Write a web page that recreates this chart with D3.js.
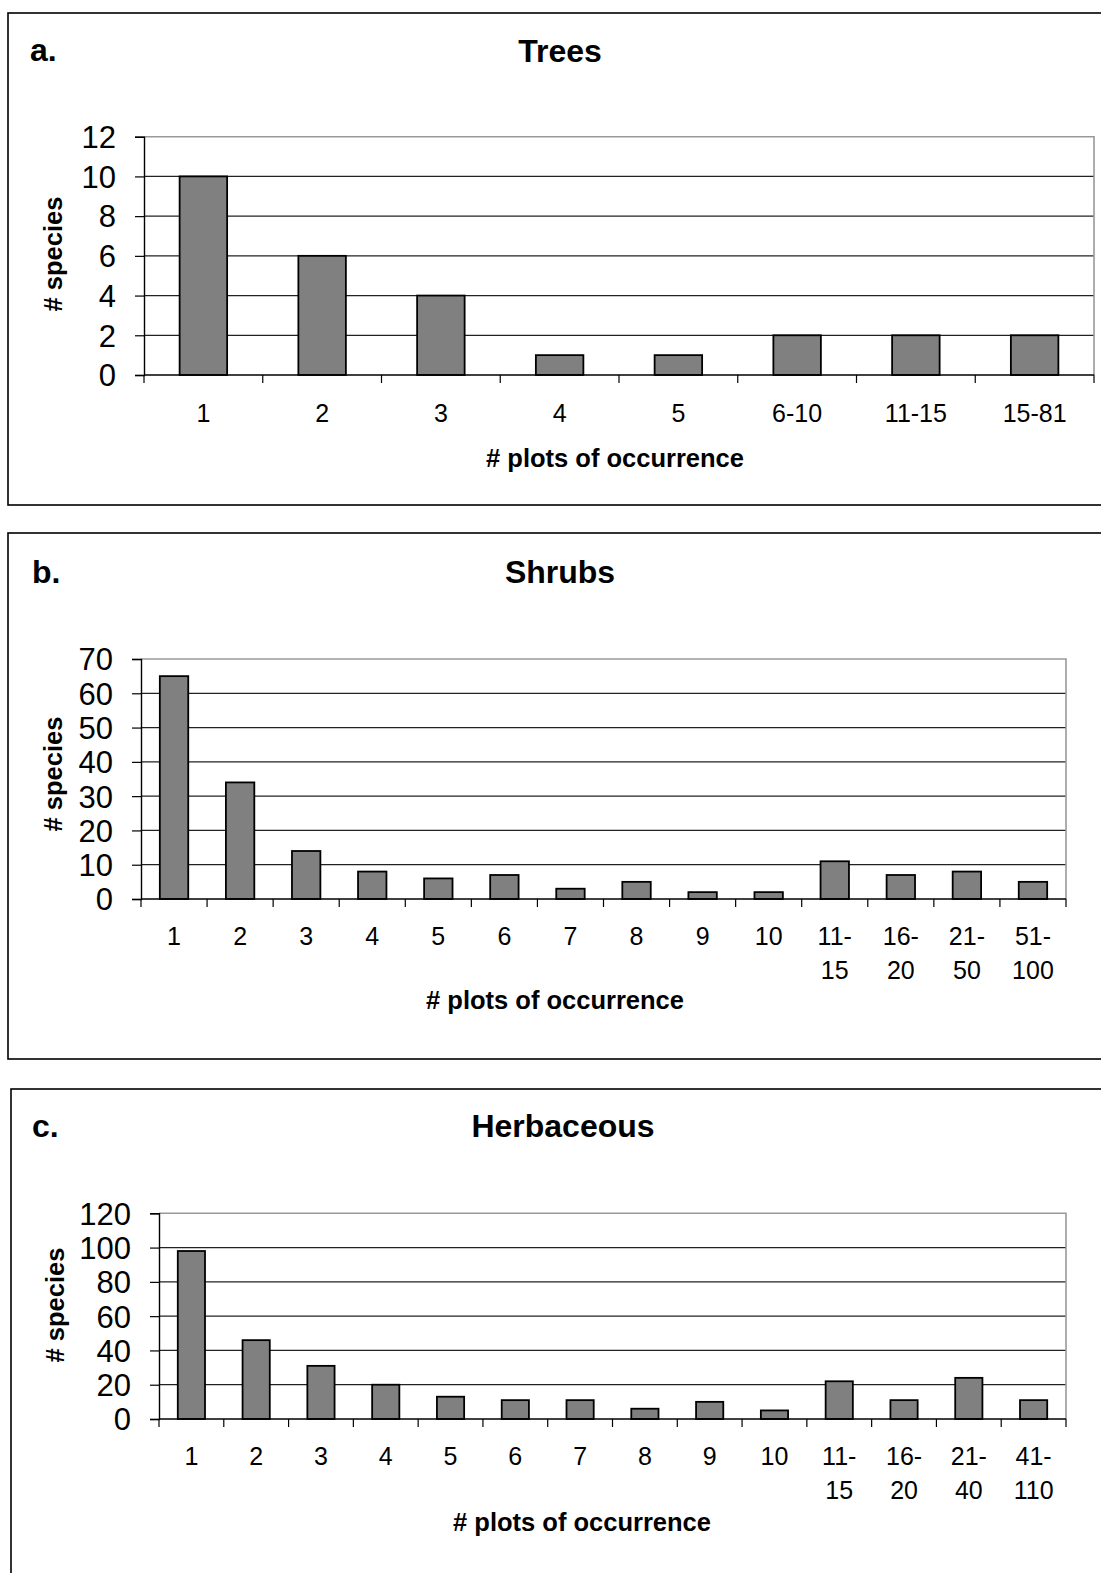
<!DOCTYPE html>
<html>
<head>
<meta charset="utf-8">
<script src="https://cdn.jsdelivr.net/npm/d3@7"></script>
<style>
  html, body { margin: 0; padding: 0; background: #fff; }
  svg { display: block; }
  text { font-family: "Liberation Sans", Arial, sans-serif; fill: #000; }
</style>
</head>
<body>
<svg id="chart" width="1101" height="1573"></svg>
<script>
// ---- Data ----
const treeCategories  = ["1", "2", "3", "4", "5", "6-10", "11-15", "15-81"];
const treeValues      = [10, 6, 4, 1, 1, 2, 2, 2];
const treeTicks       = [0, 2, 4, 6, 8, 10, 12];

const shrubCategories = ["1", "2", "3", "4", "5", "6", "7", "8", "9", "10", "11-\n15", "16-\n20", "21-\n50", "51-\n100"];
const shrubValues     = [65, 34, 14, 8, 6, 7, 3, 5, 2, 2, 11, 7, 8, 5];
const shrubTicks      = [0, 10, 20, 30, 40, 50, 60, 70];

const herbCategories  = ["1", "2", "3", "4", "5", "6", "7", "8", "9", "10", "11-\n15", "16-\n20", "21-\n40", "41-\n110"];
const herbValues      = [98, 46, 31, 20, 13, 11, 11, 6, 10, 5, 22, 11, 24, 11];
const herbTicks       = [0, 20, 40, 60, 80, 100, 120];

const panelLetters = ["a.", "b.", "c."];
const panelTitles  = ["Trees", "Shrubs", "Herbaceous"];
const yAxisTitle = "# species";
const xAxisTitle = "# plots of occurrence";

// ---- Layout (positions only) ----
const layouts = [
  { box: [8, 13, 1200, 492], letter: [30, 61], title: [560, 62],
    plot: { x0: 144, x1: 1094, y0: 136.7, y1: 375 }, barRatio: 0.40,
    yLabel: [53, 254], xTitle: [615, 467], tickBase: 47 },
  { box: [8, 533, 1200, 526], letter: [32, 583], title: [560, 583],
    plot: { x0: 141, x1: 1066, y0: 659, y1: 899 }, barRatio: 0.43,
    yLabel: [53, 774], xTitle: [555, 1009], tickBase: 46 },
  { box: [11, 1089, 1200, 600], letter: [32, 1137], title: [563, 1137],
    plot: { x0: 159, x1: 1066, y0: 1213.3, y1: 1419 }, barRatio: 0.42,
    yLabel: [55, 1305], xTitle: [582, 1531], tickBase: 46 }
];

const panels = [
  { cats: treeCategories,  vals: treeValues,  ticks: treeTicks },
  { cats: shrubCategories, vals: shrubValues, ticks: shrubTicks },
  { cats: herbCategories,  vals: herbValues,  ticks: herbTicks }
];

const svg = d3.select("#chart");

panels.forEach((p, i) => {
  const L = layouts[i];
  const g = svg.append("g");

  // panel frame
  g.append("rect")
    .attr("x", L.box[0]).attr("y", L.box[1])
    .attr("width", L.box[2]).attr("height", L.box[3])
    .attr("fill", "none").attr("stroke", "#000").attr("stroke-width", 1.6);

  // letter and title
  g.append("text").attr("x", L.letter[0]).attr("y", L.letter[1])
    .attr("font-size", 32).attr("font-weight", "bold").text(panelLetters[i]);
  g.append("text").attr("x", L.title[0]).attr("y", L.title[1])
    .attr("text-anchor", "middle")
    .attr("font-size", 32).attr("font-weight", "bold").text(panelTitles[i]);

  const x = d3.scaleBand().domain(p.cats).range([L.plot.x0, L.plot.x1]).padding(0);
  const yMax = d3.max(p.ticks);
  const y = d3.scaleLinear().domain([0, yMax]).range([L.plot.y1, L.plot.y0]);

  // gridlines (exclude top, which is the plot border)
  g.append("g").selectAll("line")
    .data(p.ticks.filter(t => t !== 0 && t !== yMax))
    .join("line")
    .attr("x1", L.plot.x0).attr("x2", L.plot.x1)
    .attr("y1", d => y(d)).attr("y2", d => y(d))
    .attr("stroke", "#222").attr("stroke-width", 1.2);

  // plot area border (top + right, gray)
  g.append("path")
    .attr("d", `M${L.plot.x0},${y(yMax)}H${L.plot.x1}V${y(0)}`)
    .attr("fill", "none").attr("stroke", "#999").attr("stroke-width", 1.6);

  // bars
  const bw = x.bandwidth() * L.barRatio;
  g.append("g").selectAll("rect")
    .data(p.vals)
    .join("rect")
    .attr("x", (d, j) => x(p.cats[j]) + (x.bandwidth() - bw) / 2)
    .attr("y", d => y(d))
    .attr("width", bw)
    .attr("height", d => y(0) - y(d))
    .attr("fill", "#808080").attr("stroke", "#000").attr("stroke-width", 1.8);

  // y axis
  const yAxis = d3.axisLeft(y).tickValues(p.ticks).tickSize(9).tickPadding(19)
    .tickFormat(d3.format("d"));
  const ya = g.append("g").attr("transform", `translate(${L.plot.x0},0)`).call(yAxis);
  ya.select(".domain").attr("stroke", "#000").attr("stroke-width", 1.4);
  ya.selectAll(".tick line").attr("stroke", "#000").attr("stroke-width", 1.2);
  ya.selectAll(".tick text")
    .attr("font-size", 31).attr("font-family", "Liberation Sans, Arial, sans-serif")
    .attr("fill", "#000").attr("dy", "0.35em");

  // x axis (ticks at band boundaries)
  const boundaries = p.cats.map(c => x(c)).concat([L.plot.x1]);
  const xa = g.append("g");
  xa.append("line")
    .attr("x1", L.plot.x0).attr("x2", L.plot.x1)
    .attr("y1", y(0)).attr("y2", y(0))
    .attr("stroke", "#000").attr("stroke-width", 1.4);
  xa.selectAll("line.tk").data(boundaries).join("line").attr("class", "tk")
    .attr("x1", d => d).attr("x2", d => d)
    .attr("y1", y(0)).attr("y2", y(0) + 8)
    .attr("stroke", "#000").attr("stroke-width", 1.2);

  const labels = xa.selectAll("text.xl").data(p.cats).join("text").attr("class", "xl")
    .attr("text-anchor", "middle").attr("font-size", 25)
    .attr("transform", d => `translate(${x(d) + x.bandwidth() / 2},${y(0) + L.tickBase})`);
  labels.each(function(d) {
    const lines = d.split("\n");
    d3.select(this).selectAll("tspan").data(lines).join("tspan")
      .attr("x", 0).attr("y", (l, k) => k * 34).text(l => l);
  });

  // axis titles
  g.append("text")
    .attr("transform", `translate(${L.yLabel[0]},${L.yLabel[1]}) rotate(-90)`)
    .attr("text-anchor", "middle").attr("dy", "0.35em")
    .attr("font-size", 25.5).attr("font-weight", "bold").text(yAxisTitle);
  g.append("text").attr("x", L.xTitle[0]).attr("y", L.xTitle[1])
    .attr("text-anchor", "middle")
    .attr("font-size", 25.5).attr("font-weight", "bold").text(xAxisTitle);
});
</script>
</body>
</html>
